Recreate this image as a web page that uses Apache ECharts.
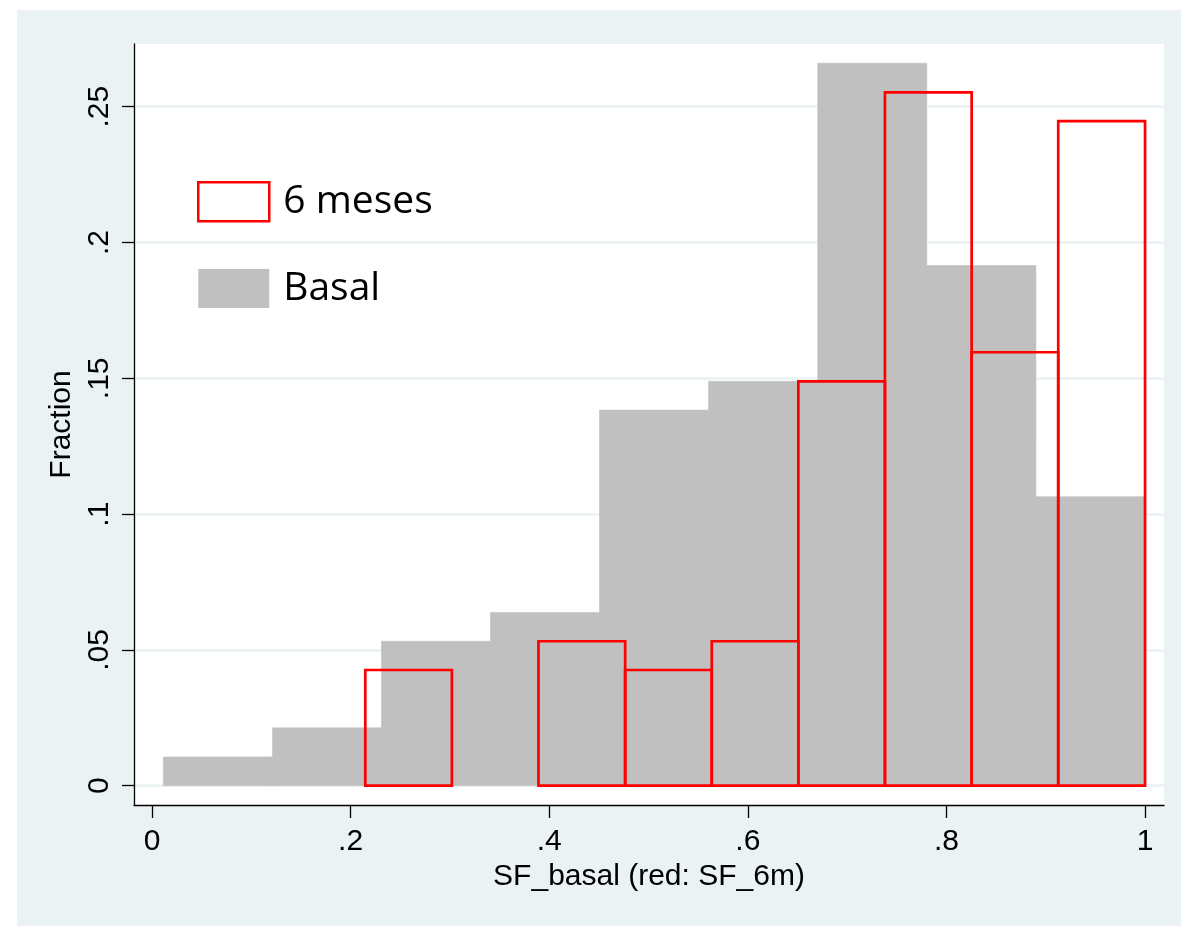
<!DOCTYPE html>
<html>
<head>
<meta charset="utf-8">
<script src="https://cdn.jsdelivr.net/npm/echarts@6/dist/echarts.min.js"></script>
<style>
html,body{margin:0;padding:0;background:#ffffff;}
#chart{width:1181px;height:926px;}
</style>
</head>
<body>
<div id="chart"></div>
<script>
// Basal histogram (gray): bin edges and fractions
const basalEdges = [0.0114, 0.1213, 0.2311, 0.3409, 0.4507, 0.5605, 0.6704, 0.7802, 0.8901, 1.0];
const basalValues = [0.0106, 0.0213, 0.0532, 0.0638, 0.1383, 0.1489, 0.2660, 0.1915, 0.1064];
// 6 meses histogram (red outline): bin edges and fractions
const m6Edges = [0.2148, 0.3020, 0.3892, 0.4765, 0.5637, 0.6509, 0.7381, 0.8254, 0.9126, 1.0];
const m6Values = [0.0426, 0.0, 0.0532, 0.0426, 0.0532, 0.1489, 0.2553, 0.1596, 0.2447];

const xTicks = [0, 0.2, 0.4, 0.6, 0.8, 1];
const xTickLabels = ['0', '.2', '.4', '.6', '.8', '1'];
const yTicks = [0, 0.05, 0.1, 0.15, 0.2, 0.25];
const yTickLabels = ['0', '.05', '.1', '.15', '.2', '.25'];

function toBins(edges, values) {
  const out = [];
  for (let i = 0; i < values.length; i++) {
    out.push([edges[i], edges[i + 1], values[i]]);
  }
  return out;
}

function labelFor(ticks, labels) {
  return function (v) {
    for (let i = 0; i < ticks.length; i++) {
      if (Math.abs(ticks[i] - v) < 1e-9) return labels[i];
    }
    return '';
  };
}

const chart = echarts.init(document.getElementById('chart'), null, {renderer: 'canvas'});

function makeRender(fill, stroke, lw) {
  return function (params, api) {
    const h = api.value(2);
    if (!(h > 0)) return null;
    const p0 = api.coord([api.value(0), h]);
    const p1 = api.coord([api.value(1), 0]);
    return {
      type: 'rect',
      shape: {x: p0[0], y: p0[1], width: p1[0] - p0[0], height: p1[1] - p0[1]},
      style: {fill: fill, stroke: stroke, lineWidth: lw}
    };
  };
}

const axisFont = 'Liberation Sans, Arial, sans-serif';

chart.setOption({
  animation: false,
  backgroundColor: '#ffffff',
  graphic: [{
    type: 'rect',
    left: 17, top: 10,
    shape: {width: 1164, height: 916},
    style: {fill: '#EAF2F3'},
    z: -10, silent: true
  }],
  grid: {
    left: 134, right: 17, top: 44, bottom: 121,
    show: true, backgroundColor: '#ffffff', borderWidth: 0
  },
  legend: {
    orient: 'vertical',
    left: 197, top: 181,
    padding: 0,
    itemWidth: 71, itemHeight: 39,
    itemGap: 46,
    icon: 'rect',
    textStyle: {fontFamily: 'Open Sans, Noto Sans, sans-serif', fontSize: 39, color: '#000000', lineHeight: 40, padding: [0, 0, 0, 9]},
    data: [
      {name: '6 meses', icon: 'rect', itemStyle: {color: 'rgba(255,255,255,0)', borderColor: '#FF0000', borderWidth: 2.5}},
      {name: 'Basal', icon: 'rect', itemStyle: {color: '#C0C0C0', borderWidth: 0}}
    ]
  },
  xAxis: {
    type: 'value',
    min: -0.0181, max: 1.0191,
    name: 'SF_basal (red: SF_6m)',
    nameLocation: 'middle',
    nameGap: 52,
    nameTextStyle: {fontFamily: axisFont, fontSize: 30, color: '#000000'},
    axisLine: {show: true, onZero: false, lineStyle: {color: '#000000', width: 1.3}},
    axisTick: {show: true, length: 13, customValues: xTicks, lineStyle: {color: '#000000', width: 1.3}},
    axisLabel: {show: true, customValues: xTicks, margin: 22, fontFamily: axisFont, fontSize: 30, color: '#000000', formatter: labelFor(xTicks, xTickLabels)},
    splitLine: {show: false}
  },
  yAxis: {
    type: 'value',
    min: -0.0071, max: 0.2731,
    name: 'Fraction',
    nameLocation: 'middle',
    nameGap: 54,
    nameTextStyle: {fontFamily: axisFont, fontSize: 30, color: '#000000'},
    axisLine: {show: true, onZero: false, lineStyle: {color: '#000000', width: 1.3}},
    axisTick: {show: true, length: 12, customValues: yTicks, lineStyle: {color: '#000000', width: 1.3}},
    axisLabel: {show: true, customValues: yTicks, rotate: 90, margin: 19, fontFamily: axisFont, fontSize: 30, color: '#000000', formatter: labelFor(yTicks, yTickLabels)},
    splitLine: {show: true, lineStyle: {color: '#EAF2F3', width: 2.5}}
  },
  series: [
    {
      name: 'Basal',
      type: 'custom',
      renderItem: makeRender('#C0C0C0', '#C0C0C0', 0.6),
      itemStyle: {color: '#C0C0C0'},
      encode: {x: [0, 1], y: 2},
      data: toBins(basalEdges, basalValues),
      z: 2
    },
    {
      name: '6 meses',
      type: 'custom',
      renderItem: makeRender('rgba(0,0,0,0)', '#FF0000', 2.7),
      itemStyle: {color: '#FF0000'},
      encode: {x: [0, 1], y: 2},
      data: toBins(m6Edges, m6Values),
      z: 3
    }
  ]
});
</script>
</body>
</html>
